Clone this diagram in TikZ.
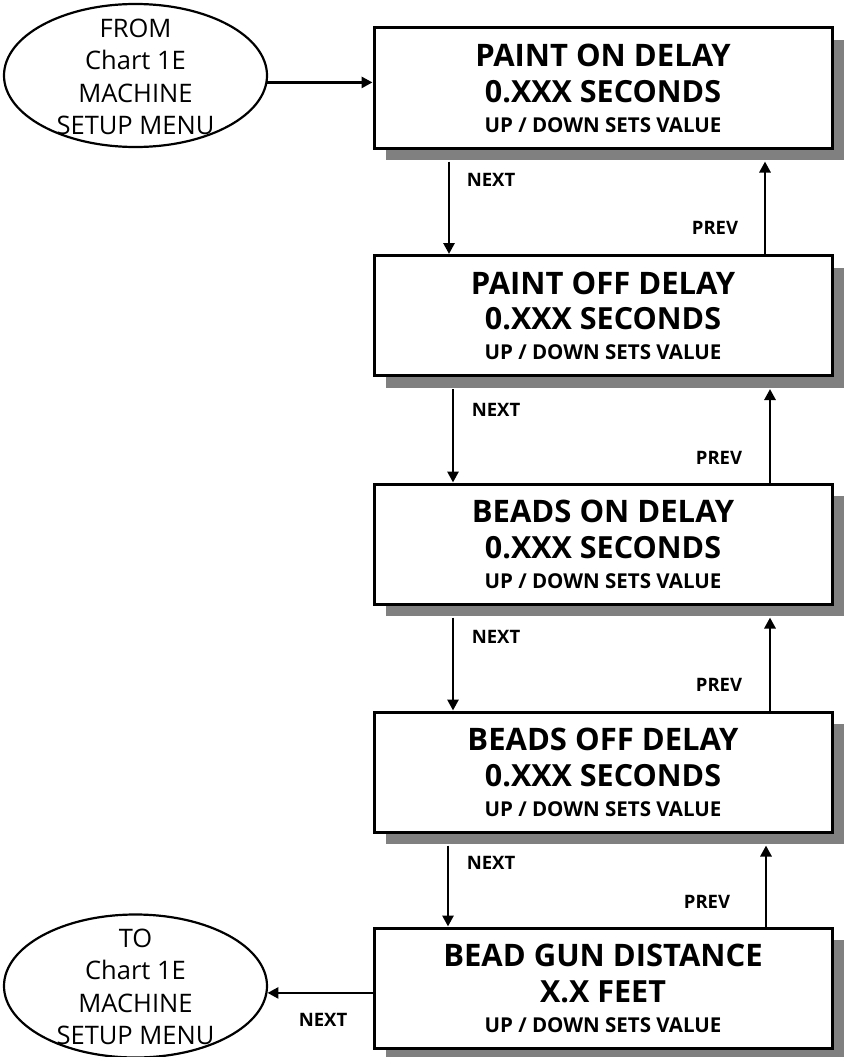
\documentclass[tikz,border=0pt]{standalone}
\usepackage{fontspec}
\setmainfont{Open Sans}
\usetikzlibrary{shapes.geometric,arrows.meta,shadows,calc}
\definecolor{shadowgray}{HTML}{808080}

\begin{document}
\begin{tikzpicture}[x=1pt,y=-1pt,
  menubox/.style={draw, line width=3pt, fill=white, minimum width=458pt,
    minimum height=120pt, inner sep=0pt,
    drop shadow={shadow xshift=11.5pt, shadow yshift=-12pt, fill=shadowgray, opacity=1}},
  terminal/.style={draw, ellipse, line width=2.2pt, minimum width=263pt,
    minimum height=143pt, inner sep=0pt},
  termtext/.style={align=center, inner sep=0pt, font=\fontsize{25.5}{32.3}\selectfont},
  titletext/.style={anchor=base, inner sep=0pt, font=\fontsize{31}{36}\selectfont\bfseries},
  valuetext/.style={anchor=base, inner sep=0pt, font=\fontsize{30.5}{36}\selectfont\bfseries},
  hinttext/.style={anchor=base, inner sep=0pt, font=\fontsize{20.5}{25}\selectfont\bfseries},
  keylabel/.style={inner sep=0pt, font=\fontsize{18.5}{22}\selectfont\bfseries},
  arr/.style={line width=2.8pt, -{Triangle[length=11pt,width=11pt]}}
]
\useasboundingbox (0,0) rectangle (843,1057);

% one menu screen: name, centre y, title, value
\newcommand\menuscreen[4]{%
  \node[menubox] (#1) at (603,#2) {};
  \node[titletext] (#1t) at ($(#1.center)+(0,-21.5)$) {#3};
  \node[valuetext] (#1v) at ($(#1.center)+(0,14)$) {#4};
  \node[hinttext] (#1h) at ($(#1.center)+(0,44)$) {UP / DOWN SETS VALUE};
}

% entry and exit terminals
\node[terminal] (e1) at (135.5,75.5) {};
\node[termtext] (e1t) at (135.5,77) {FROM\\Chart 1E\\MACHINE\\SETUP MENU};
\node[terminal] (e2) at (135.5,986) {};
\node[termtext] (e2t) at (135.5,987) {TO\\Chart 1E\\MACHINE\\SETUP MENU};

% the five menu screens
\menuscreen{b1}{88}{PAINT ON DELAY}{0.XXX SECONDS}
\menuscreen{b2}{315.5}{PAINT OFF DELAY}{0.XXX SECONDS}
\menuscreen{b3}{544}{BEADS ON DELAY}{0.XXX SECONDS}
\menuscreen{b4}{772}{BEADS OFF DELAY}{0.XXX SECONDS}
\menuscreen{b5}{988}{BEAD GUN DISTANCE}{X.X FEET}

% downward NEXT links
\draw[arr] ([xshift=-154pt,yshift=-12pt]b1.south) -- ([xshift=-154pt]b2.north);
\draw[arr] ([xshift=-150pt,yshift=-12pt]b2.south) -- ([xshift=-150pt]b3.north);
\draw[arr] ([xshift=-150pt,yshift=-12pt]b3.south) -- ([xshift=-150pt]b4.north);
\draw[arr] ([xshift=-155pt,yshift=-12pt]b4.south) -- ([xshift=-155pt]b5.north);

% upward PREV links
\draw[arr] ([xshift=162pt]b2.north) -- ([xshift=162pt,yshift=-12pt]b1.south);
\draw[arr] ([xshift=167pt]b3.north) -- ([xshift=167pt,yshift=-12pt]b2.south);
\draw[arr] ([xshift=167pt]b4.north) -- ([xshift=167pt,yshift=-12pt]b3.south);
\draw[arr] ([xshift=163pt]b5.north) -- ([xshift=163pt,yshift=-12pt]b4.south);

\node[keylabel] (n1) at (491,180) {NEXT};
\node[keylabel] (p1) at (715,228) {PREV};
\node[keylabel] (n2) at (496,410) {NEXT};
\node[keylabel] (p2) at (719,458) {PREV};
\node[keylabel] (n3) at (496,637) {NEXT};
\node[keylabel] (p3) at (719,685) {PREV};
\node[keylabel] (n4) at (491,863) {NEXT};
\node[keylabel] (p4) at (707,902) {PREV};

% entry and exit links
\draw[arr] (e1.-3.3) -- (e1.-3.3 -| b1.west);
\draw[arr] (b5.west |- e2.-3.5) -- (e2.-3.5);
\node[keylabel] (n5) at (323,1020) {NEXT};
\end{tikzpicture}
\end{document}
